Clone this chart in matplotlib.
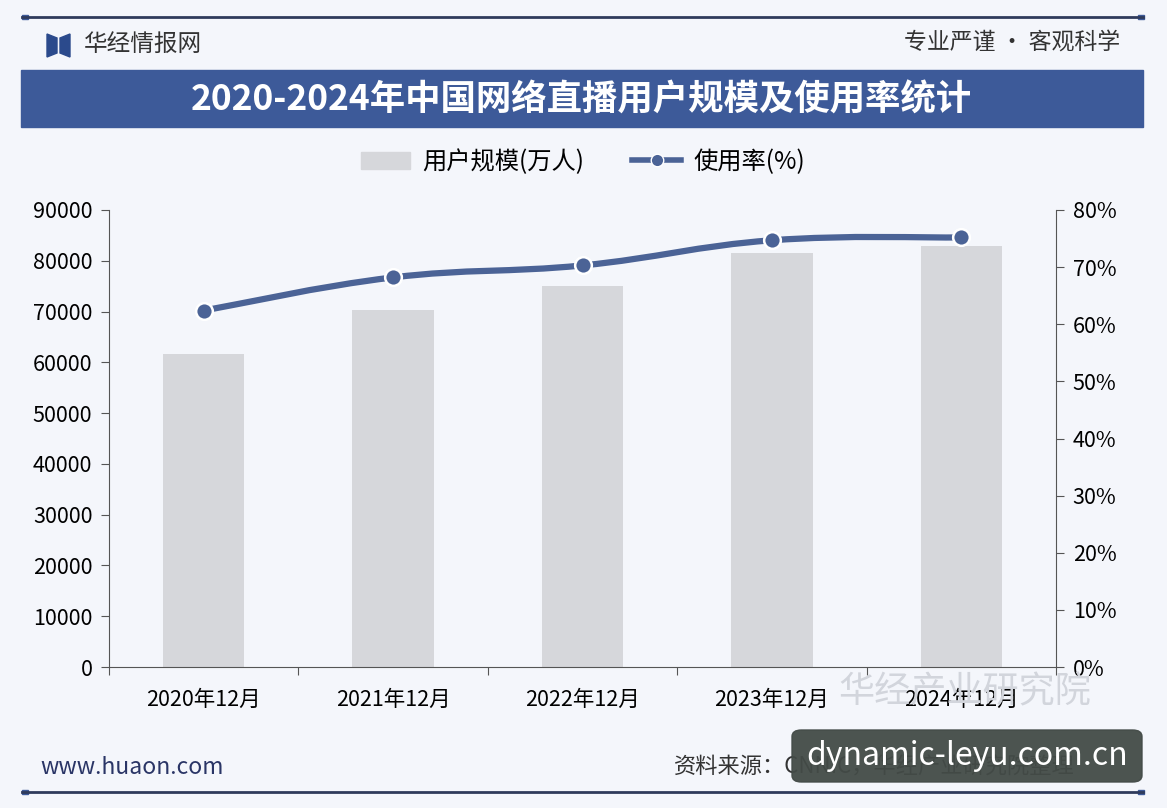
import matplotlib.pyplot as plt
import matplotlib.patches as mpatches
from matplotlib.lines import Line2D
from matplotlib.path import Path
import numpy as np

plt.rcParams['font.family'] = ['Noto Sans CJK SC', 'DejaVu Sans']

# 数据
categories = ['2020年12月', '2021年12月', '2022年12月', '2023年12月', '2024年12月']
users = [61685, 70337, 75065, 81566, 83000]   # 用户规模（万人）
rates = [62.4, 68.2, 70.3, 74.7, 75.2]        # 使用率（%）
left_ticks = [0, 10000, 20000, 30000, 40000, 50000, 60000, 70000, 80000, 90000]
right_ticks = [0, 10, 20, 30, 40, 50, 60, 70, 80]

bg = '#f4f6fb'
navy = '#3d5a99'
line_c = '#4b6396'
bar_c = '#d6d7db'
W, H = 1167, 808

fig = plt.figure(figsize=(W / 100, H / 100), dpi=100, facecolor=bg)

# 像素坐标 -> figure 坐标
def fx(px):
    return px / W

def fy(py):
    return 1 - py / H

# 平滑折线：用三次贝塞尔连接各数据点（只改变画法，不增加数据）
def smooth_path(xs, ys, k=0.2):
    xs = np.asarray(xs, float)
    ys = np.asarray(ys, float)
    n = len(xs)
    verts = [(xs[0], ys[0])]
    codes = [Path.MOVETO]
    for i in range(n - 1):
        p0 = i - 1 if i > 0 else i
        p3 = i + 2 if i + 2 < n else i + 1
        c1 = (xs[i] + k * (xs[i + 1] - xs[p0]), ys[i] + k * (ys[i + 1] - ys[p0]))
        c2 = (xs[i + 1] - k * (xs[p3] - xs[i]), ys[i + 1] - k * (ys[p3] - ys[i]))
        verts += [c1, c2, (xs[i + 1], ys[i + 1])]
        codes += [Path.CURVE4] * 3
    return Path(verts, codes)

fig.add_artist(Line2D([fx(22), fx(1143)], [fy(17), fy(17)], color='#2f3b5c', lw=2))
fig.add_artist(Line2D([fx(22), fx(1143)], [fy(792), fy(792)], color='#2f3b5c', lw=2))
for xx in (22, 1138):
    fig.add_artist(mpatches.Rectangle((fx(xx), fy(19)), fx(6), 4 / H, color=navy))
    fig.add_artist(mpatches.Rectangle((fx(xx), fy(794)), fx(6), 4 / H, color=navy))

# logo
fig.add_artist(mpatches.Polygon([[fx(47), fy(34)], [fx(57), fy(38)], [fx(57), fy(53)], [fx(47), fy(57)]],
                                closed=True, color='#2b4a8c'))
fig.add_artist(mpatches.Polygon([[fx(60), fy(38)], [fx(70), fy(34)], [fx(70), fy(57)], [fx(60), fy(53)]],
                                closed=True, color='#2b4a8c'))
fig.text(fx(84), fy(44), '华经情报网', fontsize=17, color='#333333', va='center', ha='left')
fig.text(fx(1120), fy(42), '专业严谨 • 客观科学', fontsize=16.5, color='#333333', va='center', ha='right')

# 标题栏
fig.add_artist(mpatches.Rectangle((fx(21), fy(127)), fx(1122), 57 / H, color=navy))
fig.text(fx(581), fy(100), '2020-2024年中国网络直播用户规模及使用率统计', fontsize=25.5,
         fontweight='bold', color='white', va='center', ha='center')

# 主图
ax = fig.add_axes([fx(109), 141 / H, fx(1056 - 109), 457 / H])
ax.set_facecolor('none')
x = np.arange(len(categories))
ax.bar(x, users, width=0.43, color=bar_c, zorder=2)
ax.set_xlim(-0.5, len(categories) - 0.5)
ax.set_ylim(0, 90000)
ax.set_yticks(left_ticks)
ax.set_yticklabels([str(v) for v in left_ticks])

ax.set_xticks(np.arange(-0.5, len(categories)), minor=False)
ax.set_xticklabels([])
ax.set_xticks(x, minor=True)
ax.set_xticklabels(categories, minor=True)
ax.tick_params(axis='x', which='major', length=6, color='#555555')
ax.tick_params(axis='x', which='minor', length=0, pad=16, labelsize=15.5)
ax.tick_params(axis='y', length=6, color='#555555', labelsize=15.5, pad=6)
for s in ('top', 'right'):
    ax.spines[s].set_visible(False)
for s in ('left', 'bottom'):
    ax.spines[s].set_color('#555555')

ax2 = ax.twinx()
ax2.add_patch(mpatches.PathPatch(smooth_path(x, rates), facecolor='none', edgecolor=line_c,
                                 lw=4.5, capstyle='round', zorder=3))
ax2.plot(x, rates, ls='none', marker='o', ms=12, mfc=line_c, mec='white', mew=1.8, zorder=4)
ax2.set_ylim(0, 80)
ax2.set_yticks(right_ticks)
ax2.set_yticklabels([f'{v}%' for v in right_ticks])
ax2.tick_params(axis='y', length=6, color='#555555', labelsize=15.5, pad=6)
for s in ('top', 'left', 'bottom'):
    ax2.spines[s].set_visible(False)
ax2.spines['right'].set_color('#555555')

# 图例
handles = [mpatches.Patch(color=bar_c),
           Line2D([], [], color=line_c, lw=4, marker='o', ms=9, mfc=line_c, mec='white')]
fig.legend(handles, ['用户规模(万人)', '使用率(%)'], loc='center', bbox_to_anchor=(fx(583), fy(162)),
           ncol=2, frameon=False, fontsize=17.5, handlelength=2.0, handletextpad=0.5,
           columnspacing=2.0)

# 水印
fig.text(fx(965), fy(692), '华经产业研究院', fontsize=26, color='#d2d5dc', ha='center', va='center', zorder=0)

# 页脚
fig.text(fx(40), fy(767), 'www.huaon.com', fontsize=16.5, color='#2a3566', va='center', ha='left')
fig.text(fx(674), fy(767), '资料来源：CNNIC，华经产业研究院整理', fontsize=16, color='#333333',
         va='center', ha='left')
fig.add_artist(mpatches.FancyBboxPatch((fx(792), fy(782)), fx(350), 52 / H,
                                       boxstyle='round,pad=0,rounding_size=0.008',
                                       color='#434b47', alpha=0.95, zorder=5))
fig.text(fx(967), fy(756), 'dynamic-leyu.com.cn', fontsize=23, color='white',
         ha='center', va='center', zorder=6)

fig.savefig('out.png', dpi=100, facecolor=bg)
